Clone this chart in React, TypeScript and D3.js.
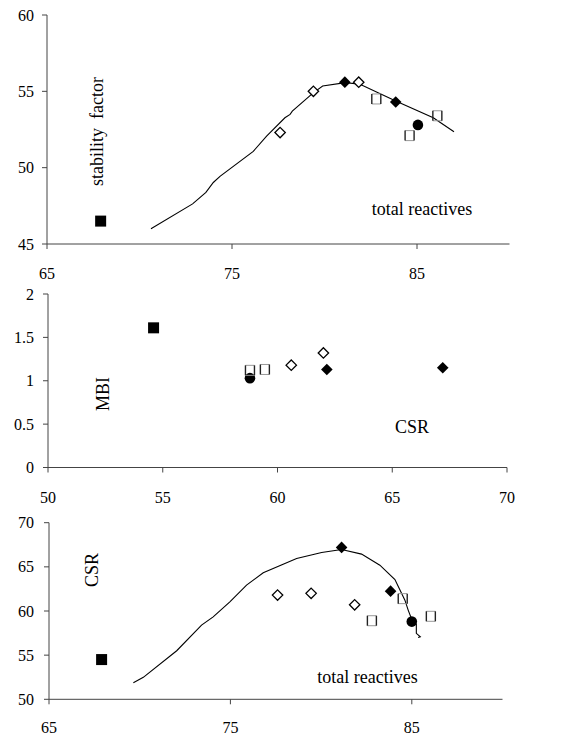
import React from "react";
import * as d3 from "d3";

// ---------- DATA ----------
// Panel 1: stability factor vs total reactives
const p1Curve: [number, number][] = [
  [70.62, 46.0], [72.87, 47.63], [73.59, 48.38], [73.99, 49.03], [74.35, 49.43],
  [76.15, 51.07], [76.87, 52.06], [77.86, 53.27], [78.14, 53.49], [78.26, 53.7],
  [79.39, 54.9], [79.9, 55.35], [81.13, 55.57], [81.92, 55.46], [83.85, 54.36],
  [85.88, 53.27], [87.0, 52.35],
];
const p1FilledSquare: [number, number][] = [[67.9, 46.5]];
const p1OpenDiamond: [number, number][] = [[77.6, 52.3], [79.4, 55.0], [81.85, 55.6]];
const p1FilledDiamond: [number, number][] = [[81.1, 55.6], [83.85, 54.3]];
const p1FilledCircle: [number, number][] = [[85.05, 52.8]];
const p1OpenSquare: [number, number][] = [[82.8, 54.5], [84.6, 52.1], [86.1, 53.4]];
const p1XTicks = [65, 75, 85];
const p1YTicks = [45, 50, 55, 60];

// Panel 2: MBI vs CSR
const p2FilledSquare: [number, number][] = [[54.6, 1.61]];
const p2FilledCircle: [number, number][] = [[58.8, 1.03]];
const p2OpenSquare: [number, number][] = [[58.8, 1.12], [59.45, 1.13]];
const p2OpenDiamond: [number, number][] = [[60.6, 1.18], [62.0, 1.32]];
const p2FilledDiamond: [number, number][] = [[62.15, 1.13], [67.2, 1.15]];
const p2XTicks = [50, 55, 60, 65, 70];
const p2YTicks = [0, 0.5, 1, 1.5, 2];

// Panel 3: CSR vs total reactives
const p3Curve: [number, number][] = [
  [69.65, 51.88], [70.2, 52.49], [72.04, 55.5], [73.41, 58.4], [74.05, 59.34],
  [74.97, 61.04], [75.89, 62.93], [76.81, 64.32], [78.65, 65.95], [80.03, 66.63],
  [81.13, 66.97], [82.23, 66.44], [83.24, 65.19], [84.07, 63.57], [84.62, 61.23],
  [84.8, 60.1], [85.07, 58.67], [85.25, 58.52], [85.25, 57.47], [85.47, 57.08], [85.35, 57.0],
];
const p3FilledSquare: [number, number][] = [[67.9, 54.5]];
const p3OpenDiamond: [number, number][] = [[77.6, 61.8], [79.45, 62.0], [81.85, 60.7]];
const p3FilledDiamond: [number, number][] = [[81.13, 67.2], [83.83, 62.25]];
const p3FilledCircle: [number, number][] = [[85.0, 58.8]];
const p3OpenSquare: [number, number][] = [[82.8, 58.9], [84.5, 61.4], [86.05, 59.4]];
const p3XTicks = [65, 75, 85];
const p3YTicks = [50, 55, 60, 65, 70];

// ---------- HELPERS ----------
const FONT = "'Liberation Serif', 'Times New Roman', serif";
const AXIS = "#444";

type Sc = d3.ScaleLinear<number, number>;

function Markers({ pts, type, x, y }: { pts: [number, number][]; type: string; x: Sc; y: Sc }) {
  return (
    <g>
      {pts.map(([a, b], i) => {
        const cx = x(a), cy = y(b);
        if (type === "filledSquare")
          return <rect key={i} x={cx - 5.5} y={cy - 5.5} width={11} height={11} fill="#000" />;
        if (type === "filledCircle")
          return <circle key={i} cx={cx} cy={cy} r={5.3} fill="#000" />;
        if (type === "filledDiamond") {
          const r = 5.8;
          return <path key={i} d={`M${cx},${cy - r}L${cx + r},${cy}L${cx},${cy + r}L${cx - r},${cy}Z`} fill="#000" />;
        }
        if (type === "openDiamond") {
          const r = 5.2;
          return <path key={i} d={`M${cx},${cy - r}L${cx + r},${cy}L${cx},${cy + r}L${cx - r},${cy}Z`} fill="#fff" stroke="#000" strokeWidth={1.3} />;
        }
        // open square: dark vertical sides, lighter horizontal sides
        const w = 4.5, h = 5;
        return (
          <g key={i}>
            <line x1={cx - w} x2={cx + w} y1={cy - h} y2={cy - h} stroke="#999" strokeWidth={1} />
            <line x1={cx - w} x2={cx + w} y1={cy + h} y2={cy + h} stroke="#999" strokeWidth={1} />
            <line x1={cx - w} x2={cx - w} y1={cy - h} y2={cy + h} stroke="#222" strokeWidth={1.4} />
            <line x1={cx + w} x2={cx + w} y1={cy - h} y2={cy + h} stroke="#222" strokeWidth={1.4} />
          </g>
        );
      })}
    </g>
  );
}

function Axes({ x, y, xTicks, yTicks, labelGap, yLabelX }: {
  x: Sc; y: Sc; xTicks: number[]; yTicks: number[]; labelGap: number; yLabelX: number;
}) {
  const [x0, x1] = x.range();
  const [y0, y1] = y.range();
  return (
    <g fontFamily={FONT} fontSize={16} fill="#000">
      <line x1={x0} x2={x0} y1={y0} y2={y1} stroke={AXIS} strokeWidth={1} />
      <line x1={x0} x2={x1} y1={y0} y2={y0} stroke={AXIS} strokeWidth={1} />
      {yTicks.map((t) => (
        <g key={"y" + t}>
          <line x1={x0 - 5} x2={x0} y1={y(t)} y2={y(t)} stroke={AXIS} />
          <text x={yLabelX} y={y(t)} textAnchor="end" dominantBaseline="central">{String(t)}</text>
        </g>
      ))}
      {xTicks.map((t) => (
        <g key={"x" + t}>
          <line x1={x(t)} x2={x(t)} y1={y0} y2={y0 + 5} stroke={AXIS} />
          <text x={x(t)} y={y0 + labelGap} textAnchor="middle">{String(t)}</text>
        </g>
      ))}
    </g>
  );
}

export default function App() {
  // panel 1
  const x1 = d3.scaleLinear().domain([65, 90]).range([47, 509.5]);
  const y1 = d3.scaleLinear().domain([45, 60]).range([244, 15]);
  // panel 2
  const x2 = d3.scaleLinear().domain([50, 70]).range([48, 507]);
  const y2 = d3.scaleLinear().domain([0, 2]).range([467.5, 294]);
  // panel 3
  const x3 = d3.scaleLinear().domain([65, 90]).range([49, 502.5]);
  const y3 = d3.scaleLinear().domain([50, 70]).range([699.3, 522.7]);

  const line1 = d3.line<[number, number]>().x((d) => x1(d[0])).y((d) => y1(d[1]));
  const line3 = d3.line<[number, number]>().x((d) => x3(d[0])).y((d) => y3(d[1]));

  return (
    <svg width={574} height={737} style={{ position: "absolute", left: 0, top: 0, background: "#fff" }}>
      <rect width={574} height={737} fill="#fff" />

      {/* Panel 1 */}
      <Axes x={x1} y={y1} xTicks={p1XTicks} yTicks={p1YTicks} labelGap={35} yLabelX={34} />
      <path d={line1(p1Curve) || ""} fill="none" stroke="#000" strokeWidth={1.1} />
      <Markers pts={p1FilledSquare} type="filledSquare" x={x1} y={y1} />
      <Markers pts={p1OpenSquare} type="openSquare" x={x1} y={y1} />
      <Markers pts={p1OpenDiamond} type="openDiamond" x={x1} y={y1} />
      <Markers pts={p1FilledDiamond} type="filledDiamond" x={x1} y={y1} />
      <Markers pts={p1FilledCircle} type="filledCircle" x={x1} y={y1} />
      <text x={97} y={131.5} transform="rotate(-90 97 131.5)" textAnchor="middle" dominantBaseline="central"
        fontFamily={FONT} fontSize={18} style={{ whiteSpace: "pre" }}>{"stability  factor"}</text>
      <text x={422} y={215} textAnchor="middle" fontFamily={FONT} fontSize={18}>total reactives</text>

      {/* Panel 2 */}
      <Axes x={x2} y={y2} xTicks={p2XTicks} yTicks={p2YTicks} labelGap={35.5} yLabelX={34} />
      <Markers pts={p2FilledSquare} type="filledSquare" x={x2} y={y2} />
      <Markers pts={p2FilledCircle} type="filledCircle" x={x2} y={y2} />
      <Markers pts={p2OpenSquare} type="openSquare" x={x2} y={y2} />
      <Markers pts={p2OpenDiamond} type="openDiamond" x={x2} y={y2} />
      <Markers pts={p2FilledDiamond} type="filledDiamond" x={x2} y={y2} />
      <text x={103} y={394} transform="rotate(-90 103 394)" textAnchor="middle" dominantBaseline="central"
        fontFamily={FONT} fontSize={18}>MBI</text>
      <text x={412} y={433} textAnchor="middle" fontFamily={FONT} fontSize={18}>CSR</text>

      {/* Panel 3 */}
      <Axes x={x3} y={y3} xTicks={p3XTicks} yTicks={p3YTicks} labelGap={34} yLabelX={34} />
      <path d={line3(p3Curve) || ""} fill="none" stroke="#000" strokeWidth={1.1} />
      <Markers pts={p3FilledSquare} type="filledSquare" x={x3} y={y3} />
      <Markers pts={p3OpenSquare} type="openSquare" x={x3} y={y3} />
      <Markers pts={p3OpenDiamond} type="openDiamond" x={x3} y={y3} />
      <Markers pts={p3FilledDiamond} type="filledDiamond" x={x3} y={y3} />
      <Markers pts={p3FilledCircle} type="filledCircle" x={x3} y={y3} />
      <text x={92} y={570} transform="rotate(-90 92 570)" textAnchor="middle" dominantBaseline="central"
        fontFamily={FONT} fontSize={18}>CSR</text>
      <text x={367.5} y={683} textAnchor="middle" fontFamily={FONT} fontSize={18}>total reactives</text>
    </svg>
  );
}
